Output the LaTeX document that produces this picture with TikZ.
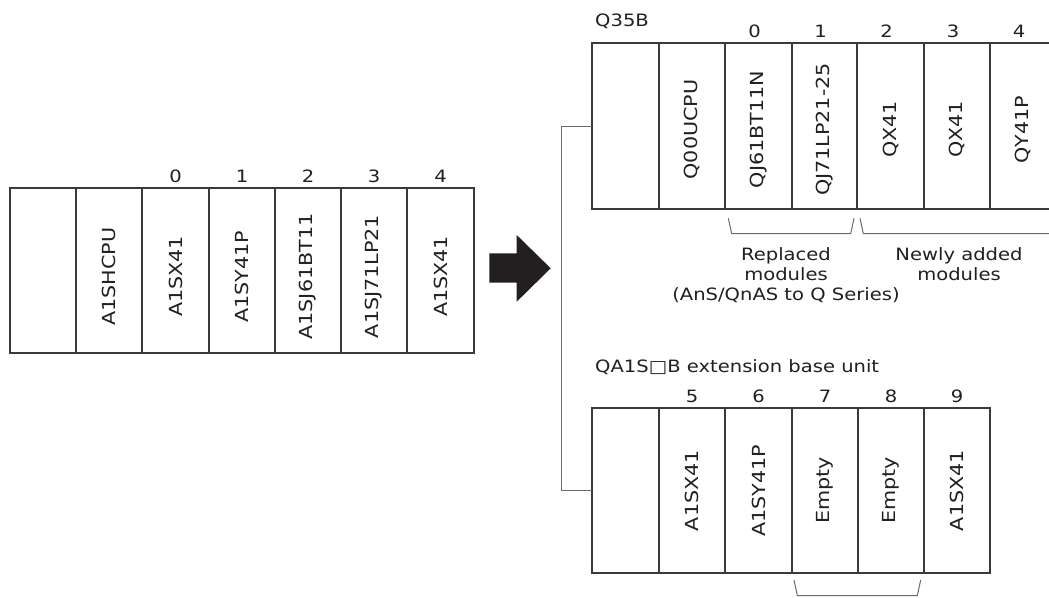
\documentclass[tikz,border=0pt]{standalone}
\usepackage{fontspec}
\setmainfont{DejaVu Sans}[FakeStretch=1.15]
\definecolor{linec}{HTML}{3A3A3A}
\definecolor{textc}{HTML}{231F20}
\definecolor{connc}{HTML}{6A6A6A}
\begin{document}
\begin{tikzpicture}[x=1pt,y=-1pt,
  cell/.style={draw=linec,line width=2pt,inner sep=0pt,outer sep=0pt},
  modtxt/.style={rotate=90,inner sep=0pt,text=textc,font=\fontsize{18}{18}\selectfont},
  numtxt/.style={anchor=base,inner sep=0pt,text=textc,font=\fontsize{17}{17}\selectfont},
  titletxt/.style={anchor=base west,inner sep=0pt,text=textc,font=\fontsize{17}{17}\selectfont},
  notetxt/.style={anchor=north,inner sep=0pt,align=center,text=textc,font=\fontsize{17}{20}\selectfont},
  conn/.style={draw=connc,line width=1pt},
  brk/.style={draw=connc,line width=1pt}]
\useasboundingbox (0,0) rectangle (1049,597);
\clip (0,0) rectangle (1049,597);
\fill[white] (0,0) rectangle (1049,597);
% left rack
\foreach \a/\b [count=\i from 0] in {10/76,76/142,142/209,209/275,275/341,341/407,407/474}
  \node[cell,minimum width={(\b-\a)*1pt},minimum height=165pt] (L\i) at ({(\a+\b)/2},270.5) {};
\foreach \i/\t in {1/A1SHCPU,2/A1SX41,3/A1SY41P,4/A1SJ61BT11,5/A1SJ71LP21,6/A1SX41}
  \node[modtxt] (Lt\i) at ([yshift=-6pt]L\i.center) {\t};
\foreach \i/\n in {2/0,3/1,4/2,5/3,6/4}
  \node[numtxt] (Ln\i) at ([yshift=5.6pt]L\i.north) {\n};
% top rack
\foreach \a/\b [count=\i from 0] in {592/659,659/725,725/792,792/857,857/924,924/990,990/1056}
  \node[cell,minimum width={(\b-\a)*1pt},minimum height=166pt] (T\i) at ({(\a+\b)/2},126) {};
\foreach \i/\t in {1/Q00UCPU,2/QJ61BT11N,3/QJ71LP21-25,4/QX41,5/QX41,6/QY41P}
  \node[modtxt] (Tt\i) at ([yshift=-3.5pt]T\i.center) {\t};
\foreach \i/\n in {2/0,3/1,4/2,5/3,6/4}
  \node[numtxt] (Tn\i) at ([xshift=-4pt,yshift=5.6pt]T\i.north) {\n};
\node[titletxt] (q35) at (595,26.7) {Q35B};
% bottom rack
\foreach \a/\b [count=\i from 0] in {592/659,659/725,725/792,792/858,858/924,924/990}
  \node[cell,minimum width={(\b-\a)*1pt},minimum height=165pt] (B\i) at ({(\a+\b)/2},490.5) {};
\foreach \i/\t in {1/A1SX41,2/A1SY41P,3/Empty,4/Empty,5/A1SX41}
  \node[modtxt] (Bt\i) at (B\i.center) {\t};
\foreach \i/\n in {1/5,2/6,3/7,4/8,5/9}
  \node[numtxt] (Bn\i) at ([yshift=5.6pt]B\i.north) {\n};
\node[titletxt] (qa) at (595,372.7) {QA1S□B extension base unit};
% connector
\coordinate (bend) at (561.5,126);
\draw[conn] (T0.west) -- (bend) |- (B0.west);
% arrow
\fill[textc] (489.3,253.3) -- (516.7,253.3) -- (516.7,235) -- (550.7,268.3)
  -- (516.7,301.7) -- (516.7,282.7) -- (489.3,282.7) -- cycle;
% brackets
\draw[brk] (728.3,218.3) -- (731.7,233.5) -- (850.7,233.5) -- (854,218.3);
\draw[brk] (860,218.3) -- (863.3,233.5) -- (1060,233.5);
\draw[brk] (794,580) -- (797.3,595.5) -- (917.3,595.5) -- (920.7,580);
% notes
\node[notetxt] (rep) at (786,247.5) {Replaced\\modules\\(AnS/QnAS to Q Series)};
\node[notetxt] (new) at (959,247.5) {Newly added\\modules};
\end{tikzpicture}
\end{document}
